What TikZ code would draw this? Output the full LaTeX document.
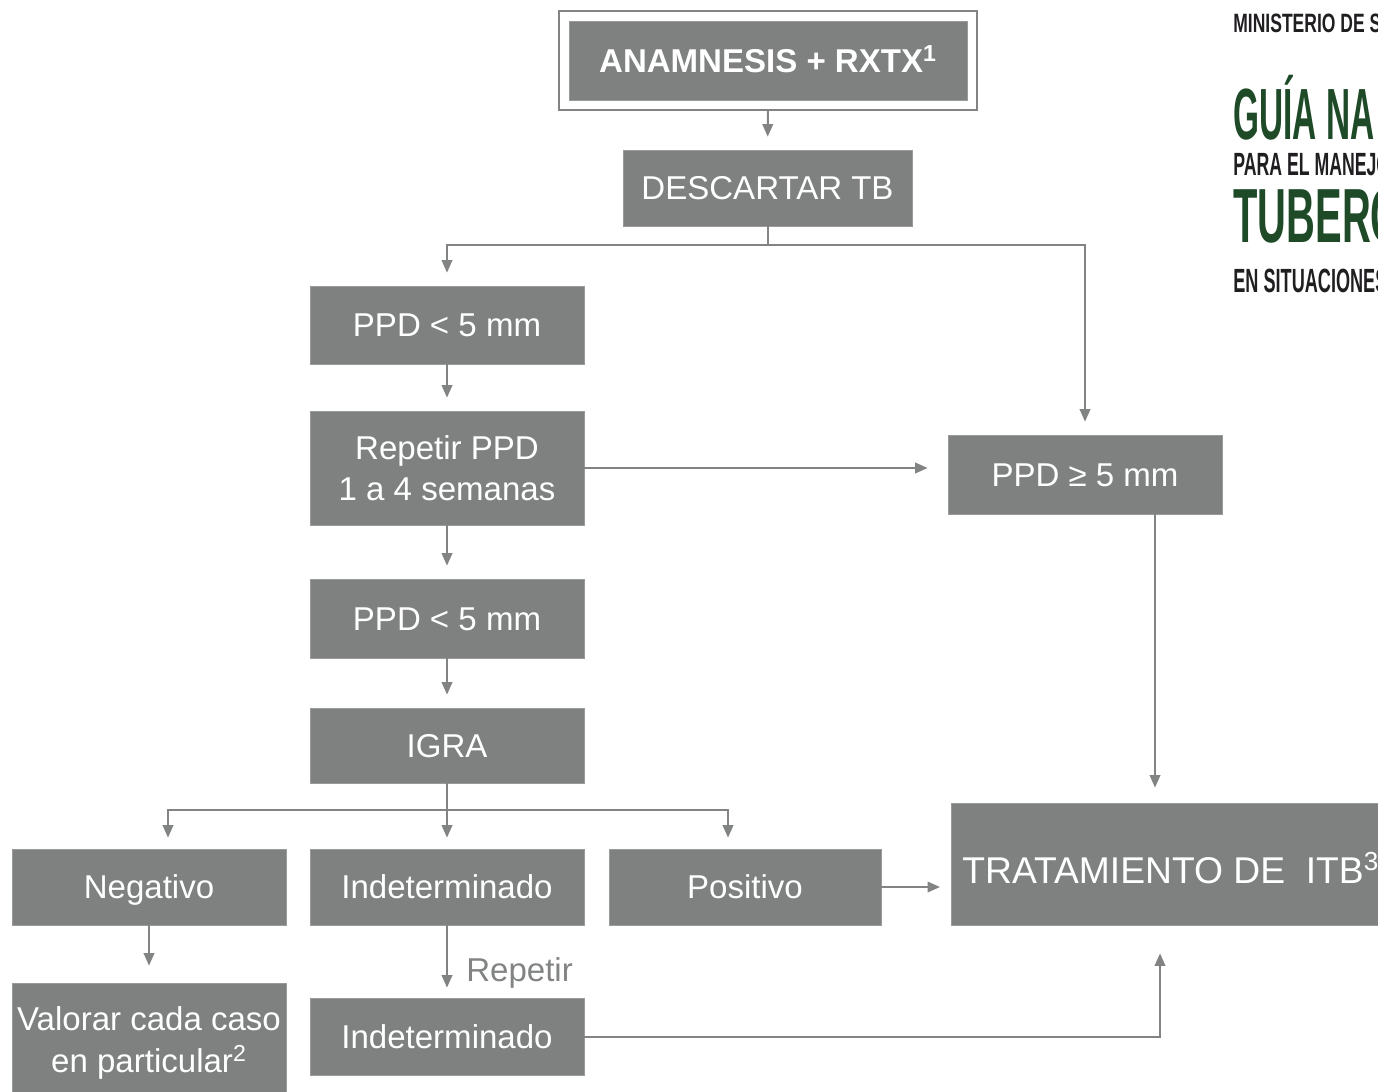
\documentclass[tikz,border=0pt]{standalone}
\usepackage{fontspec}
\usepackage{graphicx}
\setmainfont{Liberation Sans}
\usetikzlibrary{arrows.meta, positioning, fit}

\definecolor{cajagris}{RGB}{127,129,129}
\definecolor{lineagris}{RGB}{130,132,132}
\definecolor{verdeguia}{RGB}{30,74,40}
\definecolor{negroguia}{RGB}{32,30,32}

\newcommand{\cajafont}{\fontsize{18.8}{23.5}\selectfont}
\newcommand{\tratfont}{\fontsize{21.2}{24}\selectfont}

\begin{document}
\begin{tikzpicture}[x=0.02cm, y=-0.02cm,
        caja/.style = {
            rectangle,
            fill=cajagris,
            draw=cajagris!80!white,
            line width=0.4pt,
            text=white,
            font=\cajafont,
            align=center,
            inner sep=0pt,
            text height=17.4pt,
            text depth=3.95pt,
            minimum width=5.48cm,
            minimum height=1.56cm
        },
        marco/.style = {
            draw=lineagris,
            line width=0.04cm,
            inner sep=0.19cm
        },
        linea/.style = {
            draw=lineagris,
            line width=0.04cm
        },
        flecha/.style = {
            linea,
            -{Triangle[length=0.25cm, width=0.21cm]},
            shorten >=0.26cm
        },
        encab/.style = {
            anchor=base west,
            inner sep=0pt,
            text depth=0pt
        }
    ]
    \clip (0,0) rectangle (1378,1091);

    % cabecera
    \node (minist) [encab, text=negroguia] at (1233,33)
        {\fontsize{15.1}{16}\selectfont\bfseries\scalebox{0.66}[1]{MINISTERIO DE S}};
    \node (guia) [encab, text=verdeguia, text height=30pt] at (1233,140)
        {\fontsize{41.3}{42}\selectfont\bfseries\scalebox{0.46}[1]{GUÍA NA}};
    \node (manejo) [encab, text=negroguia] at (1233,175)
        {\fontsize{18.3}{19}\selectfont\bfseries\scalebox{0.55}[1]{PARA EL MANEJO}};
    \node (tuberc) [encab, text=verdeguia] at (1233,242)
        {\fontsize{43.7}{44}\selectfont\bfseries\scalebox{0.52}[1]{TUBERC}};
    \node (situac) [encab, text=negroguia] at (1233,292)
        {\fontsize{19.1}{20}\selectfont\bfseries\scalebox{0.54}[1]{EN SITUACIONES}};

    % cajas
    \node (anam) [caja, font=\cajafont\bfseries, minimum width=7.96cm, minimum height=1.58cm] at (768,60.5)
        {ANAMNESIS + RXTX\textsuperscript{1}};
    \node (marco) [marco, fit=(anam)] {};
    \node (descartar) [caja, minimum width=5.78cm, minimum height=1.52cm] at (767.5,188)
        {DESCARTAR TB};
    \node (ppd1) [caja] at (447,325)
        {PPD < 5 mm};
    \node (repetir) [caja, text height={}, text depth={}, minimum height=2.28cm] at (447,468)
        {Repetir PPD\\1 a 4 semanas};
    \node (ppd2) [caja, minimum height=1.58cm] at (447,618.5)
        {PPD < 5 mm};
    \node (igra) [caja, minimum height=1.5cm] at (447,745.5)
        {IGRA};
    \node (ppdmay) [caja, minimum height=1.58cm] at (1085,474.5)
        {PPD ≥ 5 mm};
    \node (trat) [caja, anchor=west, font=\tratfont, text height=24pt, text depth=2pt, inner xsep=0.22cm, minimum height=2.44cm] at (951,864)
        {TRATAMIENTO DE\ \ ITB\textsuperscript{3}};
    \node (neg) [caja, minimum height=1.52cm] at (149,887)
        {Negativo};
    \node (indet) [caja, minimum height=1.52cm] at (447,887)
        {Indeterminado};
    \node (pos) [caja, minimum width=5.44cm, minimum height=1.52cm] at (745,887)
        {Positivo};
    \node (valorar) [caja, text height={}, text depth={}, minimum height=2.4cm] at (149,1043)
        {Valorar cada caso\\en particular\textsuperscript{2}};
    \node (indet2) [caja, minimum height=1.54cm] at (447,1036.5)
        {Indeterminado};
    \node (repLbl) [anchor=west, inner sep=0pt, text=lineagris, font=\cajafont] at (466,973)
        {Repetir};

    % puntos de reparto
    \coordinate (bifA) at (767.5,245);
    \coordinate (bifB) at (447,810);
    \coordinate (colT) at (1155,0);
    \coordinate (colU) at (1160,0);

    % conectores
    \draw[flecha] (marco) -- (descartar);
    \draw[linea] (descartar) -- (bifA);
    \draw[flecha] (bifA) -| (ppd1);
    \draw[flecha] (bifA) -| (ppdmay);
    \draw[flecha] (ppd1) -- (repetir);
    \draw[flecha] (repetir) -- (ppd2);
    \draw[flecha] (ppd2) -- (igra);
    \draw[flecha, shorten >=0.4cm] (repetir.east) -- (repetir.east -| ppdmay.west);
    \draw[flecha, shorten >=0.3cm] (ppdmay.south -| colT) -- (trat.north -| colT);
    \draw[linea] (igra) -- (bifB);
    \draw[flecha, shorten >=0.22cm] (bifB) -| ([xshift=0.38cm]neg.north);
    \draw[flecha, shorten >=0.22cm] (bifB) -- (indet);
    \draw[flecha, shorten >=0.22cm] (bifB) -| ([xshift=-0.34cm]pos.north);
    \draw[flecha, shorten >=0.34cm] (neg) -- (valorar);
    \draw[flecha, shorten >=0.2cm] (indet) -- (indet2);
    \draw[flecha, shorten >=0.22cm] (pos) -- (pos -| trat.west);
    \draw[flecha, shorten >=0.56cm] (indet2.east) -| (trat.south -| colU);
\end{tikzpicture}
\end{document}
